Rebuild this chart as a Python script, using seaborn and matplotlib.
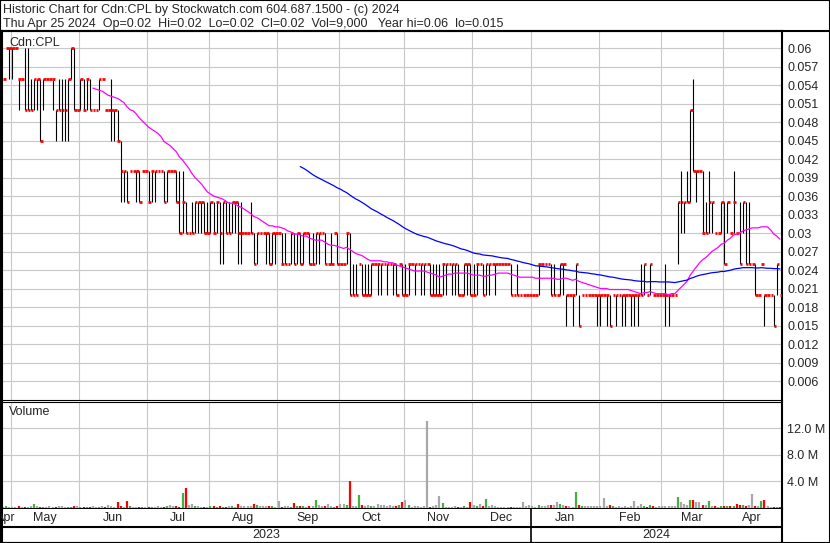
import numpy as np
import pandas as pd
import seaborn as sns
import matplotlib.pyplot as plt
from matplotlib.lines import Line2D
from matplotlib.patches import Rectangle

sns.set_style("white")
plt.rcParams['font.family'] = ['Liberation Sans', 'DejaVu Sans']

W, H = 830, 543

# daily prices in 1/1000 of a dollar (0.025 -> 25)
high_mil = [55,60,60,60,60,55,55,60,60,55, 55,55,55,55,55,55,55,50,55,55,
            55,55,60,60,50,55,55,55,55,50, 50,55,55,50,50,55,50,50,45,40,
            40,40,40,40,40,40,40,40,40,40, 40,40,40,40,40,40,40,40,40,35,
            30,35,35,35,35,35,35,35,35,35, 35,35,35,35,35,35,35,35,30,30,
            35,30,30,30,30,30,30,30,30,30, 30,30,25,30,30,30,30,30,30,30,
            30,30,30,30,30,25,30,30,30,25, 25,30,30,25,25,25,25,25,25,25,
            25,25,25,25,25,25,25,25,25,25, 25,25,25,25,25,25,25,25,25,25,
            25,25,25,25,25,25,25,25,20,25, 25,25,25,25,25,25,25,25,25,25,
            25,25,25,25,25,20,25,20,20,20, 20,20,20,25,25,25,25,25,25,20,
            25,25,20,20,20,25,20,20,20,20, 20,20,20,20,20,20,20,20,20,20,
            20,20,20,20,20,20,25,25,20,25, 20,20,20,20,25,20,20,20,35,40,
            35,40,50,55,40,40,40,35,40,35, 30,30,35,35,35,30,40,30,35,35,
            35,35,25,25,20,25,20,20,20,20, 25,20]
low_mil = [55,60,55,55,60,50,55,50,50,50, 50,50,45,50,55,55,50,45,50,45,
           45,45,55,50,50,50,50,50,50,50, 50,50,55,50,50,45,45,45,35,35,
           35,40,40,35,35,40,40,35,35,35, 40,40,35,35,40,40,35,30,30,30,
           30,30,30,30,30,30,30,30,30,30, 25,25,30,30,30,30,25,25,30,30,
           30,25,25,30,30,25,25,25,25,30, 25,25,25,25,25,25,25,25,30,25,
           25,25,25,30,25,25,25,30,25,25, 25,25,20,20,20,25,20,20,20,20,
           25,20,20,25,20,25,20,20,25,20, 20,20,25,20,25,20,20,25,20,20,
           20,20,20,20,25,20,20,20,20,20, 20,20,20,20,25,20,20,20,25,20,
           25,25,25,25,20,20,20,20,20,20, 20,20,20,20,25,25,25,20,20,20,
           20,20,15,20,15,20,15,20,20,20, 20,20,15,15,20,15,15,20,15,20,
           15,15,20,15,15,15,20,20,20,20, 20,20,20,20,15,15,20,20,25,30,
           30,35,35,40,35,40,30,30,30,30, 30,30,30,25,30,30,30,30,25,30,
           25,25,25,20,20,25,15,20,20,15, 20,20]
close_mil = [55,60,60,60,60,55,55,50,50,50, 55,55,45,55,55,55,55,50,50,50,
             50,55,60,50,50,55,50,55,50,50, 50,55,55,50,50,50,50,45,40,40,
             35,40,40,40,35,40,40,35,40,40, 40,40,35,40,40,40,35,30,35,30,
             30,30,35,35,35,30,30,35,30,35, 30,35,30,30,35,35,30,30,30,30,
             30,25,30,30,30,30,25,30,30,30, 25,25,25,30,25,30,25,30,30,25,
             25,30,30,30,25,25,25,30,25,25, 25,30,20,20,20,25,20,20,20,25,
             25,25,25,25,25,25,25,20,25,20, 20,25,25,25,25,25,25,25,20,20,
             20,20,25,25,25,25,25,20,20,25, 25,20,20,25,25,20,25,25,25,25,
             25,25,25,25,20,20,20,20,20,20, 20,20,20,25,25,25,25,20,20,20,
             25,25,20,20,20,25,15,20,20,20, 20,20,20,20,20,20,15,20,20,20,
             20,20,20,20,20,20,20,25,20,25, 20,20,20,20,20,20,20,20,35,35,
             35,35,50,40,40,40,30,30,35,35, 30,30,35,25,35,30,35,30,25,35,
             25,25,25,20,20,25,20,20,20,15, 25,20]
# daily volume in millions of shares
volume_m = [0.15,0.2,0.1,0.15,0.1,0.2,0.1,0.15,0.1,0.2,
            0.6,0.3,0.15,0.1,0.1,0.2,0.15,0.1,0.2,0.25,
            0.1,0.15,0.1,0.3,0.2,0.1,0.15,0.1,0.1,0.2,
            0.15,0.1,0.2,0.15,0.45,0.2,0.15,0.8,0.2,0.15,
            1.0,0.2,0.15,0.1,0.15,0.1,0.1,0.15,0.1,0.15,
            0.2,0.15,0.1,0.3,0.35,0.2,0.3,0.15,2.2,3.0,
            0.45,0.6,0.2,0.2,0.15,0.1,0.15,0.3,0.2,0.15,
            0.2,0.1,0.15,0.3,0.2,0.15,0.6,0.3,0.25,0.3,
            0.2,0.6,0.35,0.25,0.2,0.2,0.3,0.2,0.15,1.0,
            0.1,0.2,0.2,0.15,0.75,0.2,0.25,0.2,0.15,0.3,
            0.2,1.15,0.45,0.25,0.2,0.6,0.2,0.15,0.25,0.6,
            0.6,0.45,4.0,0.2,0.25,1.85,0.45,0.2,0.35,0.2,
            0.25,0.55,0.35,0.45,0.2,0.45,0.2,0.25,0.45,0.8,
            1.15,0.35,0.15,0.2,0.3,0.15,0.3,13.0,0.15,0.2,
            0.45,1.7,0.65,0.15,0.1,0.15,0.2,0.15,0.1,0.2,
            0.15,0.8,0.45,0.2,0.6,0.2,1.3,0.25,0.45,0.2,
            0.15,0.1,0.15,0.1,0.1,0.15,0.1,0.15,0.8,0.2,
            0.45,0.2,0.15,0.35,0.25,0.2,0.45,0.45,0.45,0.85,
            0.6,0.35,0.2,0.3,0.15,2.4,0.35,0.2,0.25,0.2,
            0.25,0.2,0.25,0.3,1.5,0.2,0.45,0.2,0.15,0.2,
            0.15,0.2,0.1,0.2,0.95,0.2,0.6,0.2,0.15,0.45,
            0.3,0.15,0.2,0.25,0.3,0.2,0.25,0.3,1.6,0.8,
            0.6,0.45,1.15,1.15,0.8,0.9,0.35,0.45,1.0,0.3,
            0.2,0.15,0.25,0.3,0.2,0.3,0.25,0.6,0.45,0.35,
            0.3,0.35,2.1,0.25,0.2,0.95,1.15,0.2,0.15,0.1,
            0.15,0.009]

holidays = ["2023-05-22", "2023-07-03", "2023-08-07", "2023-09-04", "2023-10-09",
            "2023-12-25", "2023-12-26", "2024-01-01", "2024-02-19", "2024-03-29"]
price_ticks = [0.006, 0.009, 0.012, 0.015, 0.018, 0.021, 0.024, 0.027, 0.03, 0.033,
               0.036, 0.039, 0.042, 0.045, 0.048, 0.051, 0.054, 0.057, 0.06]
vol_ticks = [4, 8, 12]
vol_labels = ["4.0 M", "8.0 M", "12.0 M"]
header1 = "Historic Chart for Cdn:CPL by Stockwatch.com 604.687.1500 - (c) 2024"
header2 = "Thu Apr 25 2024  Op=0.02  Hi=0.02  Lo=0.02  Cl=0.02  Vol=9,000   Year hi=0.06  lo=0.015"

dates = pd.bdate_range("2023-04-26", "2024-04-25")
dates = dates[~dates.isin(pd.to_datetime(holidays))]
n = len(close_mil)
df = pd.DataFrame({"date": dates[:n],
                   "high": np.array(high_mil) / 1000,
                   "low": np.array(low_mil) / 1000,
                   "close": np.array(close_mil) / 1000,
                   "volume": volume_m})
df["idx"] = np.arange(n)
df["ma_short"] = df["close"].rolling(30).mean()
df["ma_long"] = df["close"].rolling(97).mean()
chg = df["close"].diff()
df["vcol"] = np.where(chg > 0, "#44b044", np.where(chg < 0, "#ff0000", "#a8a8a8"))

# month boundaries
month_key = df["date"].dt.to_period("M")
starts = df.groupby(month_key)["idx"].min()
ends = df.groupby(month_key)["idx"].max()
bounds = [s - 0.5 for s in starts.values[1:]]
jan_idx = starts[pd.Period("2024-01", "M")] - 0.5


def px_rect(x0, y0, x1, y1):
    return [x0 / W, 1 - y1 / H, (x1 - x0) / W, (y1 - y0) / H]


grid_col = "#c8c8c8"
fig = plt.figure(figsize=(W / 100, H / 100), dpi=100, facecolor="white")
ax = fig.add_axes(px_rect(1.5, 31, 781.5, 399.5))
axv = fig.add_axes(px_rect(1.5, 401.5, 781.5, 508.5))
axd = fig.add_axes(px_rect(1.5, 508.5, 781.5, 542.5))

# price panel
up = df[df["high"] > df["low"]]
ax.vlines(up["idx"], up["low"], up["high"], color="black", lw=0.8, zorder=3)
ax.hlines(df["close"], df["idx"] - 0.05, df["idx"] + 0.8, color="red", lw=2.0, zorder=4)
sns.lineplot(data=df, x="idx", y="ma_short", ax=ax, color="#ff00ff", lw=0.9, zorder=5)
sns.lineplot(data=df, x="idx", y="ma_long", ax=ax, color="#0000ff", lw=0.9, zorder=5)
ax.set_xlim(-0.5, n - 0.5)
ax.set_ylim(0.003, 0.06276)
ax.set_yticks(price_ticks)
ax.set_yticklabels([f"{v:g}" for v in price_ticks])
ax.yaxis.tick_right()
ax.set_xticks(bounds)
ax.tick_params(axis="x", labelbottom=False, length=0)
ax.tick_params(axis="y", length=0, pad=4, labelsize=9)
ax.grid(True, color=grid_col, lw=0.8)
ax.set_axisbelow(True)
ax.set_xlabel("")
ax.set_ylabel("")
ax.text(0.01, 0.968, "Cdn:CPL", transform=ax.transAxes, fontsize=9, va="center", ha="left")

# volume panel
axv.vlines(df["idx"], 0, df["volume"], colors=df["vcol"], lw=1.6, zorder=3)
axv.set_xlim(-0.5, n - 0.5)
axv.set_ylim(-0.15, 16)
axv.set_yticks(vol_ticks)
axv.set_yticklabels(vol_labels)
axv.yaxis.tick_right()
axv.set_xticks(bounds)
axv.tick_params(axis="x", labelbottom=False, length=0)
axv.tick_params(axis="y", length=0, pad=4, labelsize=9)
axv.grid(True, color=grid_col, lw=0.8)
axv.set_axisbelow(True)
axv.text(0.01, 0.9, "Volume", transform=axv.transAxes, fontsize=9, va="center", ha="left")

# date axis
axd.set_xlim(-0.5, n - 0.5)
axd.set_ylim(34, 0)
axd.set_xticks([])
axd.set_yticks([])
for per in starts.index:
    mid = (starts[per] + ends[per]) / 2
    axd.text(mid, 9.5, per.strftime("%b"), ha="center", va="center", fontsize=9)
axd.text((-0.5 + jan_idx) / 2, 26.5, "2023", ha="center", va="center", fontsize=9)
axd.text((jan_idx + n - 0.5) / 2, 26.5, "2024", ha="center", va="center", fontsize=9)
axd.axhline(18.5, color="black", lw=1.5)
axd.axvline(jan_idx, color="black", lw=1.2)

for a in (ax, axv, axd):
    for side in ("left", "right"):
        a.spines[side].set_linewidth(1.5)
ax.spines["top"].set_linewidth(1.5)
ax.spines["bottom"].set_linewidth(0.8)
axv.spines["top"].set_linewidth(0.8)
axv.spines["bottom"].set_linewidth(1.5)
axd.spines["top"].set_visible(False)
axd.spines["bottom"].set_linewidth(1.5)
for a in (ax, axv, axd):
    for sp in a.spines.values():
        sp.set_color("black")

# header and frame
fig.text(3 / W, 1 - 10.5 / H, header1, fontsize=9, va="center", ha="left")
fig.text(3 / W, 1 - 24 / H, header2, fontsize=9, va="center", ha="left")
fig.add_artist(Line2D([0, 1], [1 - 31 / H, 1 - 31 / H], transform=fig.transFigure, color="black", lw=1.5))
fig.add_artist(Rectangle((0, 0), 1, 1, transform=fig.transFigure, fill=False, ec="black", lw=1.5))

fig.savefig("out.png", dpi=100)
